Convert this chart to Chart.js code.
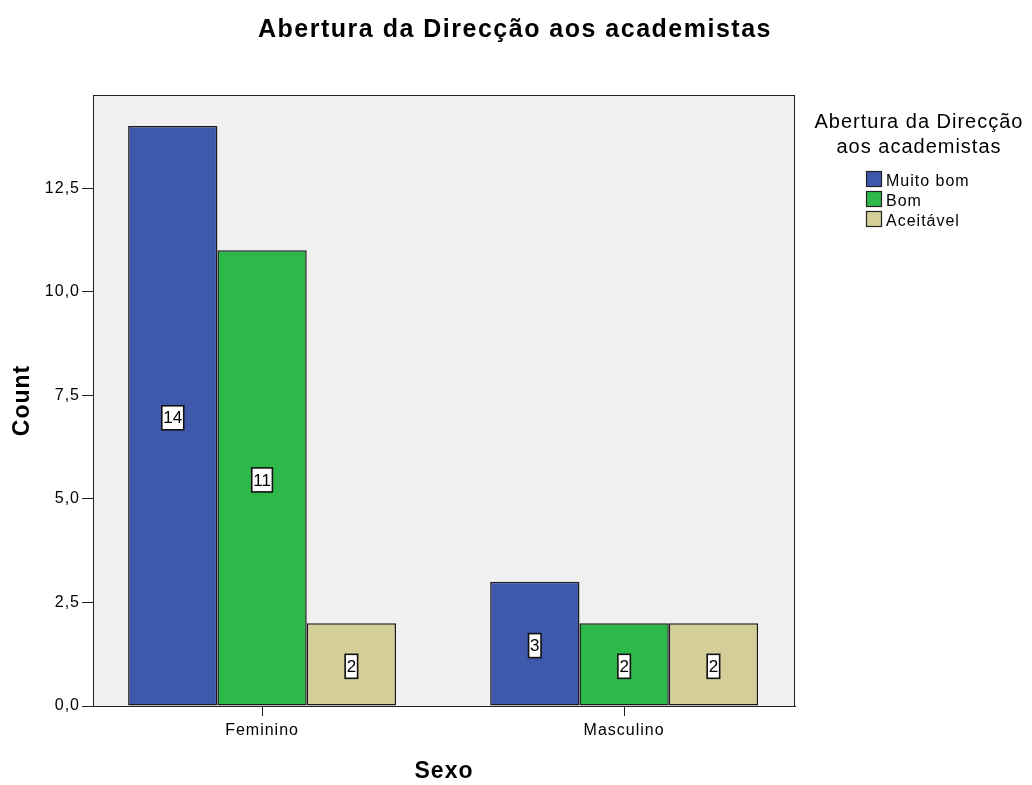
<!DOCTYPE html>
<html>
<head>
<meta charset="utf-8">
<script src="https://cdn.jsdelivr.net/npm/chart.js@4.4.1/dist/chart.umd.min.js"></script>
<style>
  html, body { margin: 0; padding: 0; background: #fff; }
  #wrap { width: 1032px; height: 785px; }
</style>
</head>
<body>
<div id="wrap"><canvas id="myChart" width="1032" height="785"></canvas></div>
<script>
let categories = ['Feminino', 'Masculino'];
let muitoBom = [14, 3];
let bom = [11, 2];
let aceitavel = [2, 2];
let seriesNames = ['Muito bom', 'Bom', 'Aceitável'];
let legendTitle = ['Abertura da Direcção', 'aos academistas'];
let chartTitle = 'Abertura da Direcção aos academistas';
let yTicks = [0, 2.5, 5, 7.5, 10, 12.5];

const FONT = "'Liberation Sans', Arial, sans-serif";

// grey panel + frame behind the bars, title and legend on top
const panelPlugin = {
    id: 'panel',
    beforeUpdate(chart) { chart.ctx.letterSpacing = '1px'; },
    beforeDraw(chart) { chart.ctx.letterSpacing = '1px'; },
    beforeDatasetsDraw(chart) {
        const {ctx, chartArea: a} = chart;
        ctx.save();
        ctx.fillStyle = '#f0f0f0';
        ctx.fillRect(a.left, a.top, a.right - a.left, a.bottom - a.top);
        ctx.restore();
    },
    afterDraw(chart) {
        const {ctx, chartArea: a} = chart;
        ctx.save();
        ctx.strokeStyle = '#222';
        ctx.lineWidth = 1;
        ctx.strokeRect(a.left + 0.5, a.top + 0.5, a.right - a.left - 1, a.bottom - a.top);

        // main title
        ctx.fillStyle = '#000';
        ctx.letterSpacing = '1.5px';
        ctx.font = 'bold 25px ' + FONT;
        ctx.textAlign = 'center';
        ctx.textBaseline = 'alphabetic';
        ctx.fillText(chartTitle, 515, 37);

        // legend
        ctx.letterSpacing = '1px';
        ctx.font = '20px ' + FONT;
        ctx.fillText(legendTitle[0], 919, 128);
        ctx.fillText(legendTitle[1], 919, 153);
        ctx.font = '16px ' + FONT;
        ctx.textAlign = 'left';
        chart.data.datasets.forEach((ds, i) => {
            const top = 171 + i * 20;
            ctx.fillStyle = ds.backgroundColor;
            ctx.fillRect(866, top, 16, 16);
            ctx.strokeStyle = '#222';
            ctx.lineWidth = 1.2;
            ctx.strokeRect(866.5, top + 0.5, 15, 15);
            ctx.fillStyle = '#000';
            ctx.fillText(ds.label, 886, top + 15);
        });
        ctx.restore();
    }
};

// value boxes in the middle of each bar
const valueBoxes = {
    id: 'valueBoxes',
    afterDatasetsDraw(chart) {
        const {ctx} = chart;
        ctx.save();
        ctx.letterSpacing = '0px';
        ctx.font = '17px ' + FONT;
        ctx.textAlign = 'center';
        ctx.textBaseline = 'middle';
        chart.data.datasets.forEach((ds, i) => {
            chart.getDatasetMeta(i).data.forEach((bar, j) => {
                const txt = String(ds.data[j]);
                const cy = (bar.y + bar.base) / 2 + 2;
                const w = ctx.measureText(txt).width + 3;
                const h = 24;
                ctx.fillStyle = '#fff';
                ctx.fillRect(bar.x - w / 2, cy - h / 2, w, h);
                ctx.strokeStyle = '#111';
                ctx.lineWidth = 1.6;
                ctx.strokeRect(bar.x - w / 2, cy - h / 2, w, h);
                ctx.fillStyle = '#000';
                ctx.fillText(txt, bar.x, cy + 1);
            });
        });
        ctx.restore();
    }
};

let ctx = document.getElementById('myChart').getContext('2d');

let barChart = new Chart(ctx, {
    type: 'bar',
    data: {
        labels: categories.map((c, i) => i),
        datasets: [
            { label: seriesNames[0], data: muitoBom, backgroundColor: '#3e58ac' },
            { label: seriesNames[1], data: bom, backgroundColor: '#2eb84a' },
            { label: seriesNames[2], data: aceitavel, backgroundColor: '#d4cf98' }
        ]
    },
    options: {
        responsive: false,
        animation: false,
        layout: { padding: { top: 95, right: 237, left: 0, bottom: 0 } },
        datasets: {
            bar: {
                categoryPercentage: 0.74,
                barPercentage: 1,
                borderColor: '#1a1a1a',
                borderWidth: 1.5,
                borderSkipped: false
            }
        },
        plugins: {
            legend: { display: false },
            title: { display: false },
            tooltip: { enabled: false }
        },
        scales: {
            x: {
                type: 'linear',
                min: -0.467,
                max: 1.472,
                offset: false,
                grid: { display: true, drawOnChartArea: false, offset: false, tickLength: 10, color: '#222' },
                border: { color: '#222' },
                afterBuildTicks(scale) { scale.ticks = categories.map((c, i) => ({ value: i })); },
                ticks: {
                    color: '#000',
                    font: { size: 16, family: FONT },
                    padding: 5,
                    callback: v => categories[v]
                },
                title: { display: true, text: 'Sexo', color: '#000', font: { size: 23, weight: 'bold', family: FONT }, padding: { top: 0, bottom: 0 } },
                afterFit(scale) { scale.height = 79; }
            },
            y: {
                min: 0,
                max: 14.75,
                grid: { display: true, drawOnChartArea: false, tickLength: 11, color: '#222' },
                border: { color: '#222' },
                afterBuildTicks(scale) { scale.ticks = yTicks.map(v => ({ value: v })); },
                ticks: {
                    color: '#000',
                    padding: 2,
                    font: { size: 16, family: FONT },
                    callback: v => v.toFixed(1).replace('.', ',')
                },
                title: { display: true, text: 'Count', color: '#000', font: { size: 23, weight: 'bold', family: FONT }, padding: { top: 9, bottom: 0 } },
                afterFit(scale) { scale.width = 93; }
            }
        }
    },
    plugins: [panelPlugin, valueBoxes]
});
</script>
</body>
</html>
